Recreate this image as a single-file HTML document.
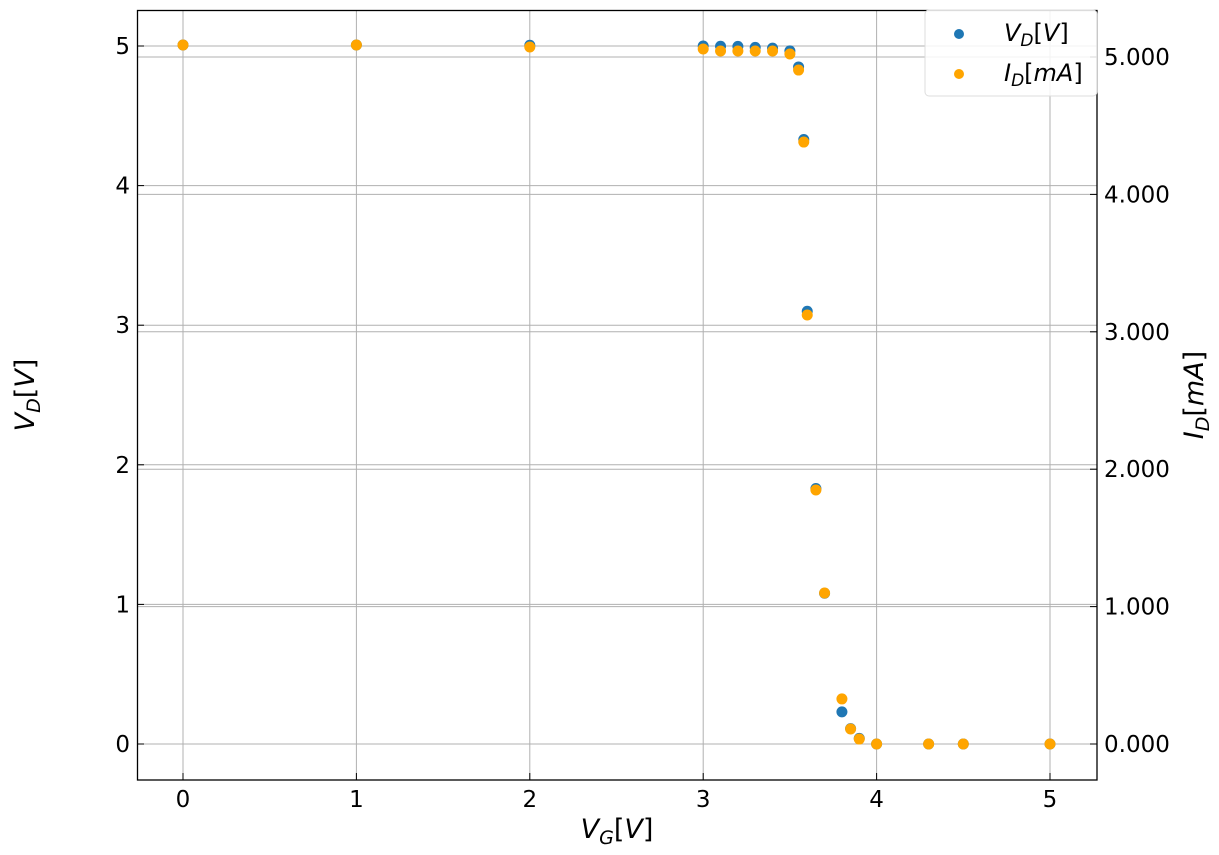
<!DOCTYPE html>
<html><head><meta charset="utf-8"><style>
body{margin:0;background:#fff;}
svg{display:block;font-family:"DejaVu Sans","Liberation Sans",sans-serif;}
</style></head><body>
<svg id="chart" width="1219" height="855" viewBox="0 0 1219 855" xmlns="http://www.w3.org/2000/svg">
<g id="grid"></g>
<g id="ticks"></g>
<g id="marks"></g>
<rect x="137.5" y="10.5" width="959.5" height="769.5" fill="none" stroke="#000" stroke-width="1.3"/>
<text x="617" y="838" font-size="27" text-anchor="middle" font-style="italic">V<tspan font-size="19" dy="6">G</tspan><tspan dy="-6" font-style="normal">[</tspan>V<tspan font-style="normal">]</tspan></text>
<text transform="translate(34,395) rotate(-90)" font-size="27" text-anchor="middle" font-style="italic">V<tspan font-size="19" dy="6">D</tspan><tspan dy="-6" font-style="normal">[</tspan>V<tspan font-style="normal">]</tspan></text>
<text transform="translate(1203,395) rotate(-90)" font-size="27" text-anchor="middle" font-style="italic">I<tspan font-size="19" dy="6">D</tspan><tspan dy="-6" font-style="normal">[</tspan>mA<tspan font-style="normal">]</tspan></text>
<g>
<rect x="925" y="10" width="172" height="86" rx="4" fill="#fff" fill-opacity="0.85" stroke="#ddd"/>
<circle cx="959" cy="34" r="5" fill="#1f77b4"/>
<text x="1004" y="41" font-size="24" font-style="italic">V<tspan font-size="17" dy="5">D</tspan><tspan dy="-5" font-style="normal">[</tspan>V<tspan font-style="normal">]</tspan></text>
<circle cx="959" cy="74" r="5" fill="#ffa500"/>
<text x="1004" y="81" font-size="24" font-style="italic">I<tspan font-size="17" dy="5">D</tspan><tspan dy="-5" font-style="normal">[</tspan>mA<tspan font-style="normal">]</tspan></text>
</g>
</svg>
<script>
const vg=[0,1,2,3,3.1,3.2,3.3,3.4,3.5,3.55,3.58,3.6,3.65,3.7,3.8,3.85,3.9,4,4.3,4.5,5];
const vd=[5.007,5.007,5.005,5.0,4.998,4.997,4.99,4.985,4.965,4.85,4.33,3.10,1.83,1.08,0.23,0.11,0.04,0,0,0,0];
const id=[5.087,5.087,5.073,5.058,5.044,5.044,5.044,5.044,5.022,4.905,4.381,3.122,1.849,1.099,0.328,0.109,0.036,0,0,0,0];
const xTicks=[0,1,2,3,4,5];
const yTicks=[0,1,2,3,4,5];
const y2Ticks=[0,1,2,3,4,5];
const y2Labels=["0.000","1.000","2.000","3.000","4.000","5.000"];
const NS="http://www.w3.org/2000/svg";
const X=v=>183+v*173.4, Y=v=>744-v*139.6, Y2=v=>744-v*137.4;
function mk(p,t,a){const e=document.createElementNS(NS,t);for(const k in a)e.setAttribute(k,a[k]);document.getElementById(p).appendChild(e);return e;}
xTicks.forEach(t=>{
 const g=mk('grid','line',{x1:X(t),x2:X(t),y1:10,y2:780,stroke:'#b0b0b0','stroke-width':1});
 
 
 const tk=mk('ticks','line',{x1:X(t),x2:X(t),y1:780,y2:773,stroke:'#000'});
 
 
 const l=mk('ticks','text',{x:X(t),y:807,'font-size':23,'text-anchor':'middle'});l.textContent=t;
 
 
});
yTicks.forEach(t=>{
 const g=mk('grid','line',{x1:137,x2:1097,y1:Y(t),y2:Y(t),stroke:'#b0b0b0','stroke-width':1});
 
 
 const tk=mk('ticks','line',{x1:137,x2:144,y1:Y(t),y2:Y(t),stroke:'#000'});
 
 
 const l=mk('ticks','text',{x:130,y:Y(t)+8,'font-size':23,'text-anchor':'end'});l.textContent=t;
 
 
});
y2Ticks.forEach((t,i)=>{
 const g=mk('grid','line',{x1:137,x2:1097,y1:Y2(t),y2:Y2(t),stroke:'#b0b0b0','stroke-width':1});
 
 
 const tk=mk('ticks','line',{x1:1090,x2:1097,y1:Y2(t),y2:Y2(t),stroke:'#000'});
 
 
 const l=mk('ticks','text',{x:1104,y:Y2(t)+8,'font-size':23});l.textContent=y2Labels[i];
 
 
});
vg.forEach((x,i)=>{
 const c=mk('marks','circle',{cx:X(x),cy:Y(vd[i]),r:5.5,fill:'#1f77b4'});
 
 
});
vg.forEach((x,i)=>{
 const c=mk('marks','circle',{cx:X(x),cy:Y2(id[i]),r:5.5,fill:'#ffa500'});
 
 
});
</script>
</body></html>
